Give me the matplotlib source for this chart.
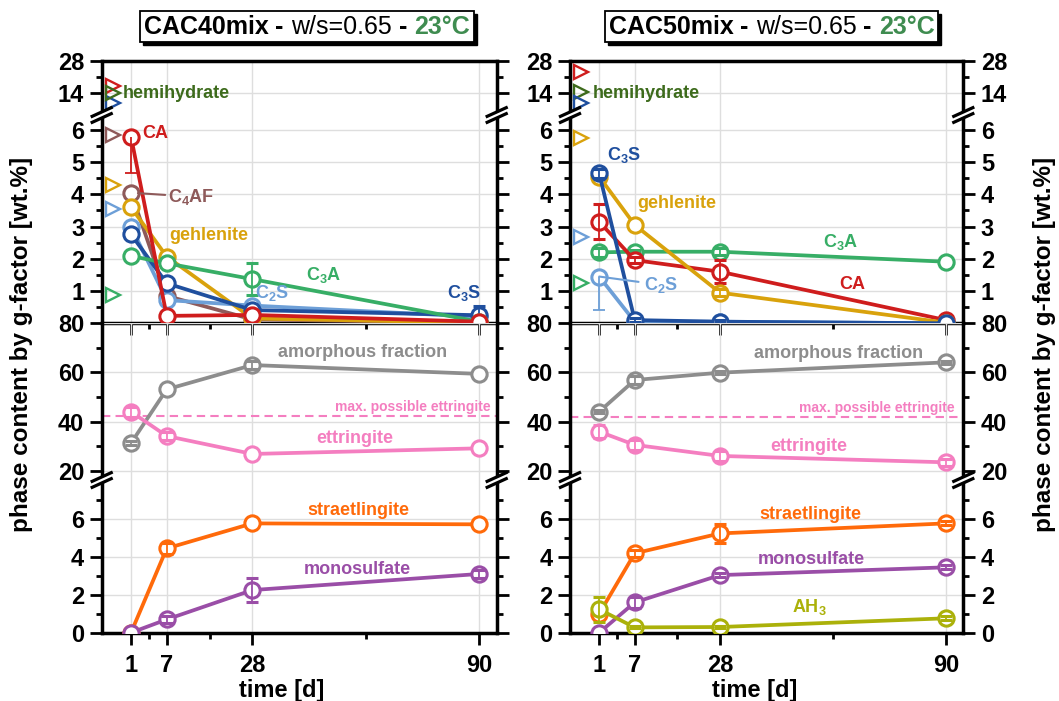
import numpy as np
import matplotlib
matplotlib.use("Agg")
import matplotlib.pyplot as plt
from matplotlib.lines import Line2D
from matplotlib.patches import Rectangle
from matplotlib.offsetbox import TextArea, HPacker, AnnotationBbox

plt.rcParams['font.family'] = ['Liberation Sans', 'DejaVu Sans']
plt.rcParams['font.weight'] = 'bold'
plt.rcParams['mathtext.fontset'] = 'custom'
plt.rcParams['mathtext.rm'] = 'Liberation Sans:bold'
plt.rcParams['mathtext.it'] = 'Liberation Sans:bold'
plt.rcParams['mathtext.bf'] = 'Liberation Sans:bold'

# ---- values (wt.%) ----
days = [1, 7, 28, 90]
day_labels = ['1', '7', '28', '90']
start_day = -2   # position of the open triangles (anhydrous content)

# CAC40mix
ca_40 = [5.79, 0.23, 0.26, 0.05]
ca_40_err = [1.14, 0, 0, 0]          # lower side only
c4af_40 = [4.05, 0.85, 0.12, 0.02]
geh_40 = [3.6, 2.07, 0.15, 0.02]
c2s_40 = [3.0, 0.72, 0.55, 0.2]
c3s_40 = [2.76, 1.24, 0.41, 0.25]
c3s_40_err = [0, 0, 0, 0.3]
c3a_40 = [2.09, 1.86, 1.37, 0.05]
c3a_40_err = [0, 0, 0.5, 0]
amor_40 = [31.2, 53.1, 63.0, 59.4]
amor_40_err = [0.8, 0, 1.5, 0]
ett_40 = [44.0, 34.1, 26.8, 29.1]
ett_40_err = [2.0, 1.5, 0, 0]
ett_max_40 = 42.3
strat_40 = [0.0, 4.45, 5.77, 5.72]
strat_40_err = [0, 0.3, 0, 0]
mono_40 = [0.0, 0.7, 2.25, 3.1]
mono_40_err = [0, 0.2, 0.65, 0.2]
start_phase_40 = ['CA', 'C3S', 'hemihydrate', 'C4AF', 'gehlenite', 'C2S', 'C3A']
start_value_40 = [17.0, 10.0, 14.0, 5.84, 4.29, 3.55, 0.88]

# CAC50mix
c3s_50 = [4.65, 0.1, 0.05, 0.0]
c3s_50_err = [0.15, 0.05, 0.05, 0]
geh_50 = [4.55, 3.05, 0.95, 0.02]
geh_50_err = [0, 0, 0.1, 0]
ca_50 = [3.15, 1.96, 1.6, 0.1]
ca_50_err = [0.55, 0.1, 0.35, 0]
c3a_50 = [2.2, 2.22, 2.22, 1.91]
c3a_50_err = [0.13, 0.05, 0.1, 0]
c2s_50 = [1.45, 0.05, 0.05, 0.0]
c2s_50_err = [1.03, 0, 0, 0]         # lower side only
amor_50 = [44.0, 56.9, 59.9, 64.1]
amor_50_err = [0.5, 1.5, 0.5, 0.5]
ett_50 = [35.9, 30.5, 26.0, 23.4]
ett_50_err = [2.8, 2.0, 2.0, 1.5]
ett_max_50 = 41.7
strat_50 = [1.0, 4.19, 5.24, 5.77]
strat_50_err = [0, 0.2, 0.5, 0.1]
mono_50 = [0.0, 1.6, 3.04, 3.45]
mono_50_err = [0, 0.3, 0.1, 0.1]
ah3_50 = [1.23, 0.28, 0.3, 0.76]
ah3_50_err = [0.65, 0.05, 0.05, 0.1]
start_phase_50 = ['CA', 'hemihydrate', 'C3S', 'gehlenite', 'C2S', 'C3A']
start_value_50 = [23.4, 14.7, 9.7, 5.76, 2.69, 1.26]

col = {
    'CA': '#cf1d1d', 'C4AF': '#8e5a5a', 'gehlenite': '#d9a20c',
    'C2S': '#6d9fd7', 'C3S': '#1f4f9e', 'C3A': '#37ae66',
    'hemihydrate': '#3d6b1c', 'amor': '#8d8d8d', 'ett': '#f47ec0',
    'strat': '#ff6a0a', 'mono': '#9a4ea7', 'AH3': '#abb10a',
}
temp_col = '#3f8c50'

W, H = 1059, 701
fig = plt.figure(figsize=(W / 100, H / 100), dpi=100)

# non-linear time axis (piecewise linear between the sampling days)
anchor_days = [-20, 1, 7, 28, 90, 200]
anchor_pos = [-125.0, 0.0, 35.7, 121.3, 348.0, 750.2]


def fwd(x):
    return np.interp(x, anchor_days, anchor_pos)


def inv(u):
    return np.interp(u, anchor_pos, anchor_days)


# y bands in pixel rows: (top px, bottom px, ylim)
ROWS = [(61, 115, (4.6, 28)), (115, 323.3, (0, 6.46)),
        (323.3, 480, (16.2, 80)), (480, 632.7, (0, 8.06))]
UPPER_MAX = 6.46


def break_mark(xp, yp):
    for dy, c, lw in ((0, 'white', 5.0), (-3, 'black', 2.3), (3, 'black', 2.3)):
        xs = [(xp - 11) / W, (xp + 11) / W]
        ys = [1 - (yp + 5 + dy) / H, 1 - (yp - 5 + dy) / H]
        fig.add_artist(Line2D(xs, ys, color=c, lw=lw, transform=fig.transFigure,
                              solid_capstyle='butt', zorder=10))


def make_panel(x0, x1, right_labels):
    axes = []
    for i, (y0, y1, lim) in enumerate(ROWS):
        ax = fig.add_axes([x0 / W, 1 - y1 / H, (x1 - x0) / W, (y1 - y0) / H])
        ax.patch.set_visible(False)
        ax.set_xscale('function', functions=(fwd, inv))
        ax.set_xlim(-3.92, 94.8)
        ax.set_ylim(*lim)
        ax.set_xticks(days)
        ax.set_xticks([4, 17.5, 59], minor=True)
        ax.grid(True, which='major', color='#dedede', lw=1)
        ax.set_axisbelow(True)
        for s in ax.spines.values():
            s.set_linewidth(2.5)
        ax.spines['top'].set_visible(i == 0)
        ax.spines['bottom'].set_visible(i in (1, 3))
        ax.tick_params(axis='y', which='both', direction='out', left=True, right=True,
                       width=2, labelleft=True, labelright=right_labels, labelsize=17, pad=4)
        ax.tick_params(axis='y', which='major', length=8.6)
        ax.tick_params(axis='y', which='minor', length=4.3)
        ax.tick_params(axis='x', which='both', direction='out', top=False,
                       bottom=(i in (1, 3)), width=2, labelbottom=(i == 3), labelsize=17, pad=7)
        ax.tick_params(axis='x', which='major', length=8.6)
        ax.tick_params(axis='x', which='minor', length=4.3)
        axes.append(ax)
    top, up, mid, low = axes
    top.set_yticks([14, 28])
    top.set_yticks([21], minor=True)
    up.set_yticks([1, 2, 3, 4, 5, 6])
    up.set_yticks([0.5, 1.5, 2.5, 3.5, 4.5, 5.5], minor=True)
    mid.set_yticks([20, 40, 60, 80])
    mid.set_yticks([30, 50, 70], minor=True)
    low.set_yticks([0, 2, 4, 6])
    low.set_yticks([1, 3, 5, 7], minor=True)
    low.set_xticklabels(day_labels)
    for yp in (ROWS[0][1], ROWS[2][1]):
        for xp in (x0, x1):
            break_mark(xp, yp)
    return axes


def curve(ax, y, color, z, err=None, lower_only=False):
    e = None
    if err is not None and any(v > 0 for v in err):
        e = np.array([v if v > 0 else np.nan for v in err])
    if lower_only and e is not None:
        # one-sided bar: stem from the point down, cap only at the lower end
        low_end = np.array(y) - e
        ax.errorbar(days, y, yerr=[e, np.zeros(len(e))], fmt='none', ecolor=color,
                    elinewidth=1.3, capsize=0, zorder=z + 0.05)
        ax.plot(days, low_end, ls='none', marker='_', ms=8, mew=1.3, color=color, zorder=z + 0.05)
        e = None
    ax.errorbar(days, y, yerr=e, color=color, lw=2.7, marker='o', ms=11, mfc='white',
                mec=color, mew=2.2, elinewidth=1.3, capsize=4, capthick=1.3,
                barsabove=True, zorder=z)


def start_marks(top, up, phases, values):
    for p, v in zip(phases, values):
        ax = top if v > UPPER_MAX else up
        ax.plot([start_day], [v], marker='>', ms=10, mfc='none', mec=col[p], mew=1.7,
                ls='none', zorder=4)


def label(ax, x, y, s, color, ha='left', size=13):
    ax.text(x, y, s, color=color, ha=ha, va='center', fontsize=size, fontweight='bold', zorder=12)


title_boxes = []


def title_box(cx, cy, name):
    parts = [(name, 'bold', 'black'), (' - ', 'bold', 'black'), ('w/s=0.65', 'normal', 'black'),
             (' - ', 'bold', 'black'), ('23°C', 'bold', temp_col)]
    areas = [TextArea(t, textprops=dict(fontsize=18, fontweight=w, color=c)) for t, w, c in parts]
    pack = HPacker(children=areas, align='baseline', pad=0, sep=0)
    ab = AnnotationBbox(pack, (cx / W, 1 - cy / H), xycoords='figure fraction',
                        frameon=True, pad=0.28,
                        bboxprops=dict(facecolor='white', edgecolor='black', lw=1.3), zorder=21)
    fig.add_artist(ab)
    title_boxes.append(ab)


# ---------------- left panel: CAC40mix ----------------
top, up, mid, low = make_panel(101.7, 496.7, False)
start_marks(top, up, start_phase_40, start_value_40)
curve(up, c4af_40, col['C4AF'], 3)
curve(up, c2s_40, col['C2S'], 3.2)
curve(up, geh_40, col['gehlenite'], 3.4)
curve(up, c3s_40, col['C3S'], 3.6, c3s_40_err)
curve(up, c3a_40, col['C3A'], 3.8, c3a_40_err)
curve(up, ca_40, col['CA'], 4.0, ca_40_err, lower_only=True)
curve(mid, amor_40, col['amor'], 3, amor_40_err)
curve(mid, ett_40, col['ett'], 3.5, ett_40_err)
mid.axhline(ett_max_40, color=col['ett'], lw=1.5, ls=(0, (4, 2.5)), zorder=2)
curve(low, strat_40, col['strat'], 3, strat_40_err)
curve(low, mono_40, col['mono'], 3.5, mono_40_err)

label(top, -0.35, 14, 'hemihydrate', col['hemihydrate'])
label(up, 2.85, 5.9, 'CA', col['CA'])
up.annotate('C$_4$AF', xy=(1, 4.05), xytext=(7.3, 3.93), color=col['C4AF'], fontsize=13,
            ha='left', va='center', zorder=12,
            arrowprops=dict(arrowstyle='-', color=col['C4AF'], lw=1.5, shrinkA=0, shrinkB=5))
label(up, 7.56, 2.72, 'gehlenite', col['gehlenite'])
label(up, 42.7, 1.5, 'C$_3$A', col['C3A'])
label(up, 28.7, 0.93, 'C$_2$S', col['C2S'])
label(up, 81.2, 0.93, 'C$_3$S', col['C3S'])
label(mid, 58.1, 68.2, 'amorphous fraction', col['amor'], 'center')
label(mid, 93.2, 45.8, 'max. possible ettringite', col['ett'], 'right', 10)
label(mid, 56, 32.9, 'ettringite', col['ett'], 'center')
label(low, 57, 6.47, 'straetlingite', col['strat'], 'center')
label(low, 56.8, 3.35, 'monosulfate', col['mono'], 'center')

# ---------------- right panel: CAC50mix ----------------
top, up, mid, low = make_panel(570, 963.3, True)
start_marks(top, up, start_phase_50, start_value_50)
curve(up, c2s_50, col['C2S'], 3, c2s_50_err, lower_only=True)
curve(up, c3a_50, col['C3A'], 3.2, c3a_50_err)
curve(up, ca_50, col['CA'], 3.4, ca_50_err)
curve(up, geh_50, col['gehlenite'], 3.6, geh_50_err)
curve(up, c3s_50, col['C3S'], 3.8, c3s_50_err)
curve(mid, amor_50, col['amor'], 3, amor_50_err)
curve(mid, ett_50, col['ett'], 3.5, ett_50_err)
mid.axhline(ett_max_50, color=col['ett'], lw=1.5, ls=(0, (4, 2.5)), zorder=2)
curve(low, strat_50, col['strat'], 3, strat_50_err)
curve(low, mono_50, col['mono'], 3.3, mono_50_err)
curve(low, ah3_50, col['AH3'], 3.6, ah3_50_err)

label(top, -0.13, 14, 'hemihydrate', col['hemihydrate'])
label(up, 2.4, 5.22, 'C$_3$S', col['C3S'])
label(up, 7.64, 3.72, 'gehlenite', col['gehlenite'])
label(up, 56.4, 2.53, 'C$_3$A', col['C3A'])
label(up, 60.7, 1.19, 'CA', col['CA'])
up.annotate('C$_2$S', xy=(1, 1.45), xytext=(9.3, 1.19), color=col['C2S'], fontsize=13,
            ha='left', va='center', zorder=12,
            arrowprops=dict(arrowstyle='-', color=col['C2S'], lw=1.5, shrinkA=2, shrinkB=0))
label(mid, 60.5, 67.8, 'amorphous fraction', col['amor'], 'center')
label(mid, 92.5, 45.4, 'max. possible ettringite', col['ett'], 'right', 10)
label(mid, 52.4, 29.8, 'ettringite', col['ett'], 'center')
label(low, 52.7, 6.25, 'straetlingite', col['strat'], 'center')
label(low, 53.2, 3.84, 'monosulfate', col['mono'], 'center')
label(low, 52.5, 1.37, 'AH$_3$', col['AH3'], 'center')

# ---------------- titles and axis labels ----------------
title_box(306.7, 26.5, 'CAC40mix')
title_box(771.5, 26.5, 'CAC50mix')
ylab = 'phase content by g-factor [wt.%]'
fig.text(22 / W, 1 - 344 / H, ylab, rotation=90, ha='center', va='center', fontsize=17.5)
fig.text(1045 / W, 1 - 344 / H, ylab, rotation=90, ha='center', va='center', fontsize=17.5)
fig.text(281.5 / W, 1 - 690 / H, 'time [d]', ha='center', va='center', fontsize=17)
fig.text(755 / W, 1 - 690 / H, 'time [d]', ha='center', va='center', fontsize=17)

# drop shadow behind the title boxes
fig.canvas.draw()
renderer = fig.canvas.get_renderer()
for ab in title_boxes:
    bb = ab.patch.get_window_extent(renderer).transformed(fig.transFigure.inverted())
    fig.add_artist(Rectangle((bb.x0 + 3 / W, bb.y0 - 3 / H), bb.width, bb.height,
                             transform=fig.transFigure, facecolor='black',
                             edgecolor='black', zorder=20))

fig.savefig('out.png', dpi=100)
